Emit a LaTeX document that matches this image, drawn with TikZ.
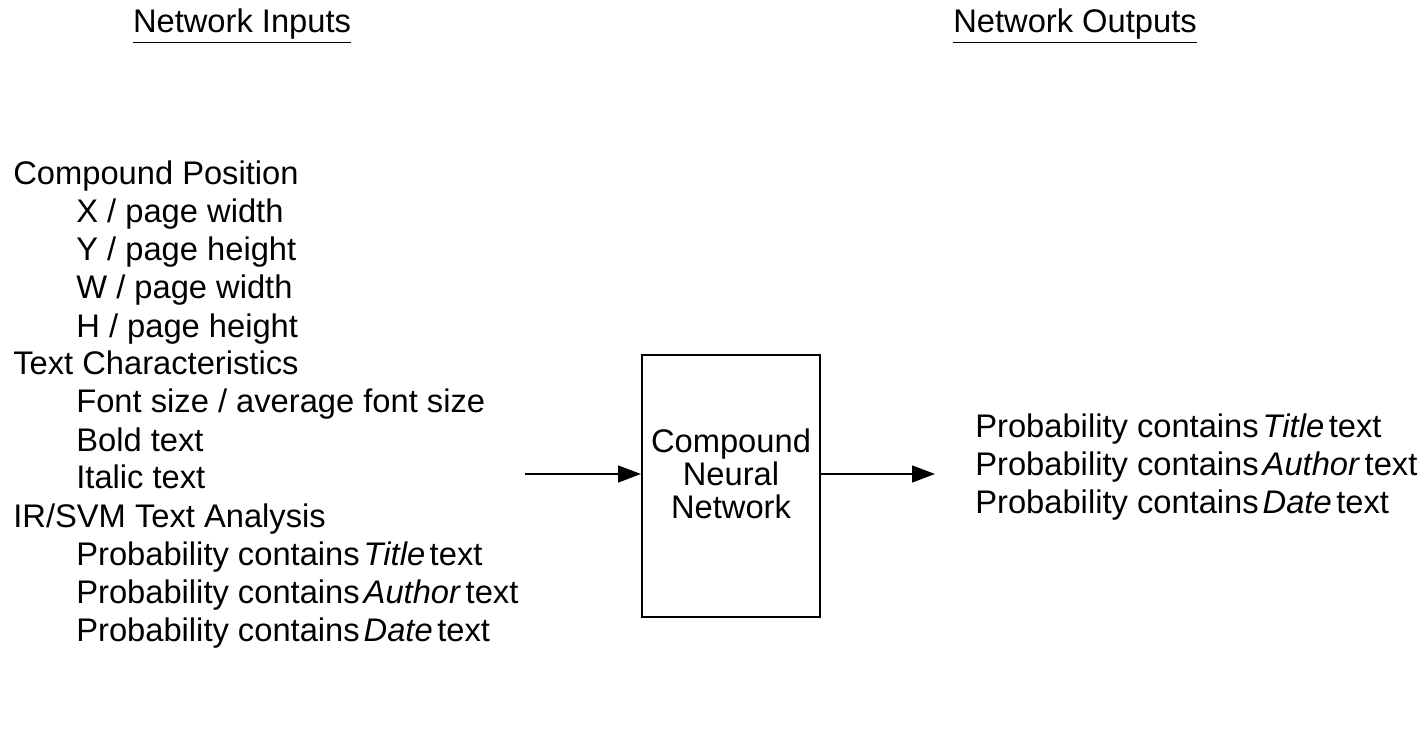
\documentclass[tikz,border=0pt]{standalone}
\usepackage{fontspec}
\setmainfont{Liberation Sans}
\usetikzlibrary{positioning,arrows.meta}

\newcommand{\emword}[1]{\hspace{0.12em}\textit{#1}\hspace{0.14em}}

\tikzset{
  listtext/.style={anchor=base west,inner sep=0pt,font=\fontsize{18.6}{21}\selectfont},
  headtext/.style={anchor=base,inner sep=0pt,font=\fontsize{18.6}{21}\selectfont},
  flow/.style={line width=1.1pt,-{Triangle[length=13pt,width=9.5pt]}}
}

\begin{document}
\begin{tikzpicture}
  \useasboundingbox (0,0) rectangle (28.56,-15.08);
  % headers
  \node[headtext] (inhead) at (4.84,-0.66) {\underline{Network Inputs}};
  \node[headtext] (outhead) at (21.5,-0.66) {\underline{Network Outputs}};
  % input list
  \node[listtext] (pos) at (0.26,-3.70) {Compound Position};
  \node[listtext] (posx) at (1.52,-4.46) {X / page width};
  \node[listtext] (posy) at (1.52,-5.22) {Y / page height};
  \node[listtext] (posw) at (1.52,-5.98) {W / page width};
  \node[listtext] (posh) at (1.52,-6.74) {H / page height};
  \node[listtext] (txt) at (0.26,-7.50) {Text Characteristics};
  \node[listtext] (txtsize) at (1.52,-8.26) {Font size / average font size};
  \node[listtext] (txtbold) at (1.52,-9.02) {Bold text};
  \node[listtext] (txtital) at (1.52,-9.76) {Italic text};
  \node[listtext] (svm) at (0.26,-10.54) {IR/SVM Text Analysis};
  \node[listtext] (svmtitle) at (1.52,-11.30) {Probability contains\emword{Title}text};
  \node[listtext] (svmauthor) at (1.52,-12.06) {Probability contains\emword{Author}text};
  \node[listtext] (svmdate) at (1.52,-12.82) {Probability contains\emword{Date}text};
  % network box
  \node[draw,line width=1.1pt,minimum width=3.56cm,minimum height=5.24cm,inner sep=0pt] (net) at (14.62,-9.72) {};
  \node[align=center,inner sep=0pt,font=\fontsize{18.6}{18.7}\selectfont] (netlabel) at (14.62,-9.48) {Compound\\Neural\\Network};
  % output list
  \node[listtext] (outtitle) at (19.50,-8.74) {Probability contains\emword{Title}text};
  \node[listtext] (outauthor) at (19.50,-9.50) {Probability contains\emword{Author}text};
  \node[listtext] (outdate) at (19.50,-10.26) {Probability contains\emword{Date}text};
  % arrows
  \coordinate (instart) at (10.50,-9.48);
  \coordinate (outend) at (18.70,-9.48);
  \draw[flow] (instart) -- (net.west |- instart);
  \draw[flow] (net.east |- outend) -- (outend);
\end{tikzpicture}
\end{document}
